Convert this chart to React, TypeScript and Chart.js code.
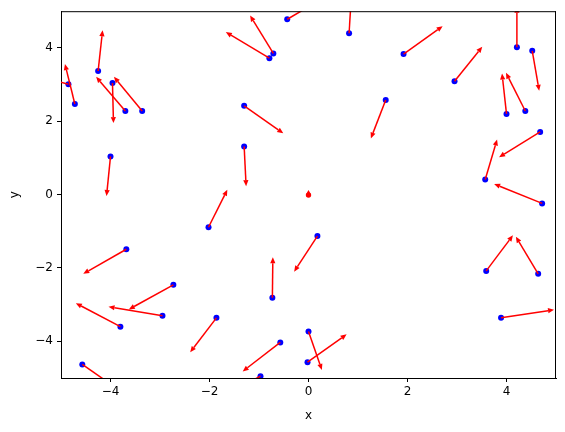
import React, { useEffect, useRef } from "react";
import { Chart, registerables } from "chart.js";
Chart.register(...registerables);

const xs = [-4.85, -4.72, -4.25, -3.96, -3.70, -3.36, -0.43, 0.82, -0.71, -0.79, -1.30, 1.56, 1.92, 2.95, 4.21, 4.52, 4.00, 4.38, 4.68, -4.00, -2.02, -3.68, -1.30, 0.00, 0.18, 3.57, 4.72, 3.59, 4.64, 3.89, -2.73, -2.95, -3.80, -1.86, -4.57, -0.73, -0.57, -0.97, 0.00, -0.02];
const ys = [3.01, 2.47, 3.37, 3.04, 2.28, 2.28, 4.78, 4.40, 3.85, 3.72, 2.42, 2.58, 3.83, 3.09, 4.02, 3.92, 2.20, 2.28, 1.71, 1.04, -0.89, -1.49, 1.31, 0.00, -1.13, 0.41, -0.24, -2.08, -2.16, -3.36, -2.46, -3.30, -3.60, -3.36, -4.63, -2.81, -4.03, -4.95, -3.73, -4.57];
const us = [-1.03, -0.20, 0.09, 0.02, -0.59, -0.57, 0.86, 0.05, -0.47, -0.88, 0.79, -0.30, 0.79, 0.56, 0.00, 0.14, -0.09, -0.39, -0.83, -0.08, 0.38, -0.87, 0.04, 0.00, -0.47, 0.24, -0.97, 0.54, -0.45, 1.07, -0.90, -1.09, -0.90, -0.53, 0.80, 0.01, -0.76, -0.89, 0.27, 0.79];
const vs = [0.38, 1.09, 1.11, -1.09, 0.93, 0.93, 0.68, 1.10, 1.03, 0.71, -0.75, -1.05, 0.76, 0.94, 1.10, -1.09, 1.10, 1.04, -0.69, -1.08, 1.02, -0.67, -1.08, 0.05, -0.97, 1.09, 0.53, 0.97, 1.01, 0.22, -0.67, 0.24, 0.64, -0.94, -0.75, 1.10, -0.79, -0.64, -1.05, 0.76];
const tickValues = [-4, -2, 0, 2, 4];

const arrowPlugin = {
  id: "arrows",
  afterDatasetsDraw(chart: any) {
    const { ctx, chartArea, scales } = chart;
    const sx = scales.x, sy = scales.y;
    ctx.save();
    ctx.beginPath();
    ctx.rect(chartArea.left, chartArea.top, chartArea.right - chartArea.left, chartArea.bottom - chartArea.top);
    ctx.clip();
    ctx.strokeStyle = "#ff0000";
    ctx.fillStyle = "#ff0000";
    ctx.lineWidth = 1.5;
    for (let i = 0; i < xs.length; i++) {
      const x0 = sx.getPixelForValue(xs[i]);
      const y0 = sy.getPixelForValue(ys[i]);
      const x1 = sx.getPixelForValue(xs[i] + us[i]);
      const y1 = sy.getPixelForValue(ys[i] + vs[i]);
      const dx = x1 - x0, dy = y1 - y0;
      const len = Math.hypot(dx, dy) || 1;
      const ux = dx / len, uy = dy / len;
      const hl = 6, hw = 2.6;
      if (len > hl) {
        const bx = x1 - ux * hl, by = y1 - uy * hl;
        ctx.beginPath();
        ctx.moveTo(x0, y0);
        ctx.lineTo(bx, by);
        ctx.stroke();
        ctx.beginPath();
        ctx.moveTo(x1, y1);
        ctx.lineTo(bx - uy * hw, by + ux * hw);
        ctx.lineTo(bx + uy * hw, by - ux * hw);
        ctx.closePath();
        ctx.fill();
      } else {
        ctx.beginPath();
        ctx.arc(x0, y0 + 0.5, 2.7, 0, Math.PI * 2);
        ctx.fill();
        ctx.beginPath();
        ctx.moveTo(x0 + ux * 4.5, y0 + uy * 4.5);
        ctx.lineTo(x0 - uy * 2.6, y0 + ux * 2.6);
        ctx.lineTo(x0 + uy * 2.6, y0 - ux * 2.6);
        ctx.closePath();
        ctx.fill();
      }
    }
    ctx.restore();
    ctx.save();
    ctx.strokeStyle = "#000";
    ctx.lineWidth = 1;
    ctx.beginPath();
    ctx.moveTo(chartArea.left, chartArea.top + 0.5);
    ctx.lineTo(chartArea.right, chartArea.top + 0.5);
    ctx.moveTo(chartArea.right - 0.5, chartArea.top);
    ctx.lineTo(chartArea.right - 0.5, chartArea.bottom);
    ctx.stroke();
    ctx.restore();
  },
};

const fmt = (v: any) => String(v).replace("-", "\u2212");

export default function App() {
  const ref = useRef<HTMLCanvasElement>(null);
  useEffect(() => {
    document.body.style.margin = "0";
    const chart = new Chart(ref.current!, {
      type: "scatter",
      data: {
        datasets: [
          {
            data: xs.map((x, i) => ({ x, y: ys[i] })),
            backgroundColor: "#0000ff",
            borderColor: "#0000ff",
            pointRadius: (c: any) => (Math.hypot(us[c.dataIndex], vs[c.dataIndex]) < 0.2 ? 0 : 3),
            borderWidth: 0,
          },
        ],
      },
      options: {
        responsive: false,
        animation: false,
        layout: { padding: { top: 9, right: 9, left: 0, bottom: 0 } },
        plugins: { legend: { display: false }, tooltip: { enabled: false } },
        scales: {
          x: {
            type: "linear",
            min: -5,
            max: 5,
            afterBuildTicks: (s: any) => { s.ticks = tickValues.map((v) => ({ value: v })); },
            afterFit: (s: any) => { s.height = 54; },
            grid: { display: true, drawOnChartArea: false, drawTicks: true, tickLength: 4, color: "#000" },
            border: { display: true, color: "#000", width: 1 },
            ticks: { color: "#000", font: { family: "DejaVu Sans", size: 12 }, padding: 3, callback: (v: any) => fmt(v) },
            title: { display: true, text: "x", color: "#000", font: { family: "DejaVu Sans", size: 12 }, padding: { top: 2, bottom: 9 } },
          },
          y: {
            type: "linear",
            min: -5,
            max: 5,
            afterBuildTicks: (s: any) => { s.ticks = tickValues.map((v) => ({ value: v })); },
            afterFit: (s: any) => { s.width = 61; },
            grid: { display: true, drawOnChartArea: false, drawTicks: true, tickLength: 4, color: "#000" },
            border: { display: true, color: "#000", width: 1 },
            ticks: { color: "#000", font: { family: "DejaVu Sans", size: 12 }, padding: 4, callback: (v: any) => fmt(v) },
            title: { display: true, text: "y", color: "#000", font: { family: "DejaVu Sans", size: 12 }, padding: { top: 8, bottom: 4 } },
          },
        },
      },
      plugins: [arrowPlugin],
    });
    return () => chart.destroy();
  }, []);
  return (
    <div style={{ width: 565, height: 432 }}>
      <canvas ref={ref} width={565} height={432} />
    </div>
  );
}
